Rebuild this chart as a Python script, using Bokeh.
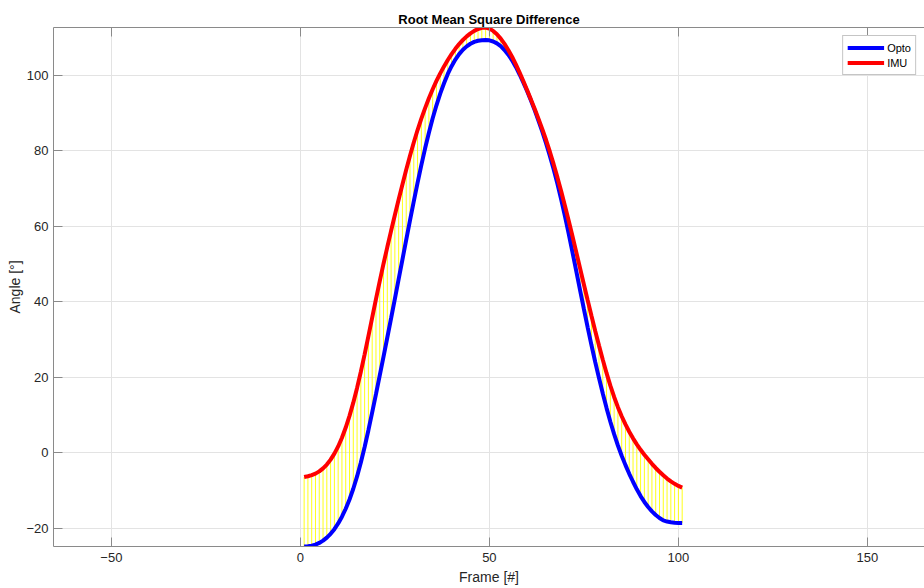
from bokeh.plotting import figure
from bokeh.models import Range1d, LinearAxis, FixedTicker, Legend, LegendItem, CustomJSTickFormatter
from bokeh.embed import file_html
from bokeh.resources import INLINE

# ---- data ----
frames = list(range(1, 102))

opto = [
    -24.8, -24.75, -24.6, -24.3, -23.85, -23.25, -22.45, -21.45, -20.2, -18.7,
    -16.9, -14.8, -12.35, -9.5, -6.25, -2.55, 1.55, 6.0, 10.7, 15.55,
    20.5, 25.5, 30.55, 35.65, 40.8, 46.0, 51.2, 56.4, 61.55, 66.6,
    71.5, 76.2, 80.65, 84.8, 88.6, 92.05, 95.15, 97.9, 100.35, 102.4,
    104.15, 105.6, 106.75, 107.65, 108.35, 108.85, 109.15, 109.3, 109.35, 109.25,
    108.95, 108.45, 107.7, 106.7, 105.45, 103.95, 102.2, 100.2, 98.05, 95.75,
    93.3, 90.7, 87.95, 85.05, 81.95, 78.65, 75.1, 71.25, 67.1, 62.65,
    57.95, 53.05, 48.05, 43.05, 38.1, 33.25, 28.55, 24.05, 19.8, 15.7,
    11.85, 8.25, 4.95, 1.95, -0.75, -3.25, -5.55, -7.65, -9.65, -11.45,
    -13.0, -14.35, -15.5, -16.45, -17.25, -17.9, -18.2, -18.4, -18.5, -18.55,
    -18.55,
]

imu = [
    -6.4, -6.2, -5.9, -5.5, -4.9, -4.1, -3.1, -1.8, -0.2, 1.7,
    4.0, 6.7, 9.8, 13.3, 17.2, 21.5, 26.1, 30.9, 35.8, 40.7,
    45.5, 50.1, 54.5, 58.8, 63.0, 67.1, 71.1, 75.0, 78.7, 82.2,
    85.5, 88.5, 91.3, 93.9, 96.3, 98.5, 100.5, 102.35, 104.05, 105.6,
    107.0, 108.25, 109.35, 110.3, 111.1, 111.75, 112.25, 112.55, 112.65, 112.35,
    111.75, 110.85, 109.7, 108.3, 106.7, 104.9, 102.9, 100.7, 98.4, 96.0,
    93.55, 91.05, 88.45, 85.75, 82.85, 79.75, 76.45, 72.95, 69.25, 65.4,
    61.4, 57.3, 53.1, 48.85, 44.6, 40.4, 36.3, 32.3, 28.4, 24.65,
    21.1, 17.8, 14.8, 12.1, 9.7, 7.55, 5.6, 3.85, 2.25, 0.8,
    -0.5, -1.7, -2.9, -4.0, -5.0, -5.95, -6.8, -7.55, -8.2, -8.75,
    -9.2,
]

x_ticks = [-50, 0, 50, 100, 150]
y_ticks = [-20, 0, 20, 40, 60, 80, 100]
series_names = ["Opto", "IMU"]

FONT = "Liberation Sans"
AX = "#262626"

p = figure(
    width=924, height=588,
    output_backend="svg", toolbar_location=None,
    x_range=Range1d(-65.3, 165.1),
    y_range=Range1d(min(opto), max(imu)),
    min_border_left=53, min_border_right=0,
    min_border_top=27, min_border_bottom=42,
    title="Root Mean Square Difference",
)
p.outline_line_color = None
p.background_fill_color = "white"

p.title.text_font = FONT
p.title.text_font_size = "13px"
p.title.text_font_style = "bold"
p.title.text_color = "black"
p.title.align = "center"
p.title.standoff = 2

for ax in (p.xaxis[0], p.yaxis[0]):
    ax.axis_line_color = "#8a8a8a"
    ax.major_tick_line_color = "#8a8a8a"
    ax.major_tick_in = 9
    ax.major_tick_out = 0
    ax.minor_tick_line_color = None
    ax.major_label_text_font = FONT
    ax.major_label_text_font_size = "13px"
    ax.major_label_text_color = AX
    ax.axis_label_text_font = FONT
    ax.axis_label_text_font_size = "14px"
    ax.axis_label_text_font_style = "normal"
    ax.axis_label_text_color = AX

p.xaxis.ticker = FixedTicker(ticks=x_ticks)
p.yaxis.ticker = FixedTicker(ticks=y_ticks)
p.xaxis.axis_label = "Frame [#]"
p.yaxis.axis_label = "Angle [°]"
p.xaxis.major_label_standoff = 6
p.xaxis.axis_label_standoff = 4
p.yaxis.major_label_standoff = 5
p.yaxis.axis_label_standoff = 0

# top box edge with inward ticks (no labels)
top = LinearAxis(
    ticker=FixedTicker(ticks=x_ticks),
    formatter=CustomJSTickFormatter(code="return ''"),
    axis_line_color="#8a8a8a", major_tick_line_color="#8a8a8a",
    major_tick_in=9, major_tick_out=0, minor_tick_line_color=None,
    major_label_text_font_size="1px", major_label_standoff=0,
)
p.add_layout(top, "above")

p.xgrid.ticker = FixedTicker(ticks=x_ticks)
p.ygrid.ticker = FixedTicker(ticks=y_ticks)
p.grid.grid_line_color = "#e3e3e3"
p.grid.grid_line_width = 1

# yellow difference segments
p.segment(frames, opto, frames, imu, line_color="#ffff00", line_width=1, line_alpha=0.9)

r_opto = p.line(frames, opto, line_color="#0000ff", line_width=4)
r_imu = p.line(frames, imu, line_color="#ff0000", line_width=4)

legend = Legend(
    items=[LegendItem(label=series_names[0], renderers=[r_opto]),
           LegendItem(label=series_names[1], renderers=[r_imu])],
    location="top_right",
    margin=8,
    padding=4,
    spacing=0,
    glyph_width=37, glyph_height=15,
    label_standoff=3,
    label_text_font=FONT, label_text_font_size="11px", label_text_color="black",
    border_line_color="#8c8c8c", border_line_width=1,
    background_fill_color="white", background_fill_alpha=1,
)
p.add_layout(legend, "center")

open("out.html", "w").write(file_html(p, INLINE))
